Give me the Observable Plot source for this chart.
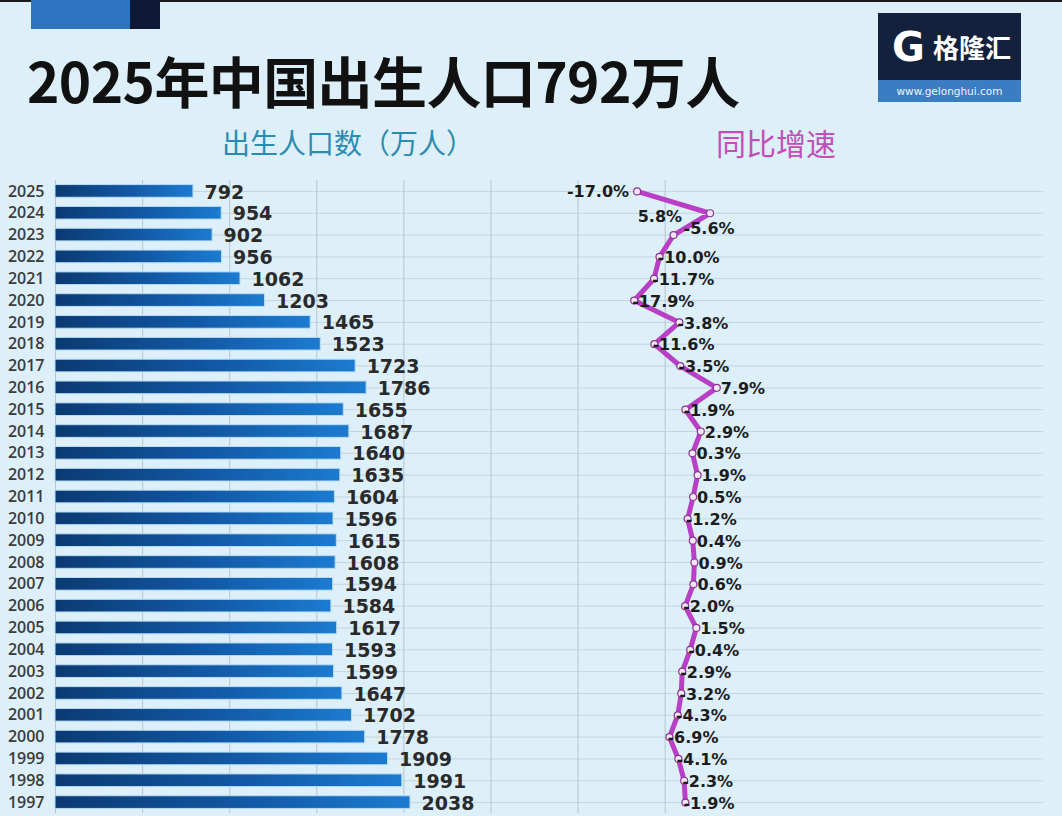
<!DOCTYPE html>
<html>
<head>
<meta charset="utf-8">
<script src="https://cdn.jsdelivr.net/npm/d3@7"></script>
<script src="https://cdn.jsdelivr.net/npm/@observablehq/plot@0.6"></script>
<style>
  html, body { margin: 0; padding: 0; }
  body { width: 1062px; height: 816px; overflow: hidden; background: #ddf0fa; font-family: "Noto Sans CJK SC", sans-serif; }
  #header { position: relative; height: 176px; }
  #header div { position: absolute; white-space: nowrap; line-height: 1; }
  #topline { left: 0; top: 0; width: 1062px; height: 2px; background: #1b1b1b; }
  #deco1 { left: 31px; top: 0; width: 99px; height: 29px; background: #2f74c0; }
  #deco2 { left: 130px; top: 0; width: 30px; height: 29px; background: #0e1a35; }
  #title { left: 27px; top: 52px; font-size: 55px; font-weight: 700; color: #111; letter-spacing: -0.6px; }
  #sub1 { left: 222px; top: 128px; font-size: 28px; color: #2c8bb0; }
  #sub2 { left: 716px; top: 127px; font-size: 30px; color: #c14fb8; }
  #logo { left: 878px; top: 13px; width: 143px; height: 67px; background: #14213d; }
  #logo2 { left: 878px; top: 80px; width: 143px; height: 22px; background: #3b7dc2; color: #eef4fb; font: 10.5px "DejaVu Sans", sans-serif; text-align: center; line-height: 22px !important; }
  #logoG { left: 892px; top: 27px; font: 900 40px "DejaVu Sans", sans-serif; color: #fff; }
  #logoT { left: 933px; top: 34px; font-size: 26px; color: #fff; font-weight: 700; }
  #chart { position: relative; width: 1062px; height: 640px; }
  #chart svg { position: absolute; left: 0; top: 0; }
</style>
</head>
<body>
<div id="header">
  <div id="topline"></div>
  <div id="deco1"></div>
  <div id="deco2"></div>
  <div id="title">2025年中国出生人口792万人</div>
  <div id="sub1">出生人口数（万人）</div>
  <div id="sub2">同比增速</div>
  <div id="logo"></div>
  <div id="logo2">www.gelonghui.com</div>
  <div id="logoG">G</div>
  <div id="logoT">格隆汇</div>
</div>
<div id="chart"></div>
<script>
const years = [2025, 2024, 2023, 2022, 2021, 2020, 2019, 2018, 2017, 2016, 2015, 2014, 2013, 2012, 2011, 2010, 2009, 2008, 2007, 2006, 2005, 2004, 2003, 2002, 2001, 2000, 1999, 1998, 1997];
const births = [792, 954, 902, 956, 1062, 1203, 1465, 1523, 1723, 1786, 1655, 1687, 1640, 1635, 1604, 1596, 1615, 1608, 1594, 1584, 1617, 1593, 1599, 1647, 1702, 1778, 1909, 1991, 2038];
const growth = [-17.0, 5.8, -5.6, -10.0, -11.7, -17.9, -3.8, -11.6, -3.5, 7.9, -1.9, 2.9, 0.3, 1.9, 0.5, -1.2, 0.4, 0.9, 0.6, -2.0, 1.5, -0.4, -2.9, -3.2, -4.3, -6.9, -4.1, -2.3, -1.9];
const gridTicks = [0, 500, 1000, 1500, 2000, 2500, 3000, 3500];

const rows = years.map((y, i) => ({year: String(y), births: births[i], growth: growth[i], label: growth[i].toFixed(1) + "%"}));
const yDomain = rows.map(d => d.year);

const common = {
  width: 1062, height: 640,
  marginTop: 4, marginBottom: 3, marginLeft: 55, marginRight: 19,
  style: {background: "transparent", overflow: "visible"}
};
const yScale = {domain: yDomain, paddingInner: 0.42, paddingOuter: 0.21, round: false};

const barPlot = Plot.plot({
  ...common,
  x: {domain: [0, 5672], axis: null},
  y: {...yScale, axis: null},
  marks: [
    Plot.ruleY(rows, {y: "year", stroke: "#c2d5e1", strokeWidth: 1}),
    Plot.ruleX(gridTicks, {stroke: "#b6c4ce", strokeWidth: 1}),
    Plot.barX(rows, {x: "births", y: "year", fill: "url(#barGrad)", stroke: "#b8ddf4", strokeWidth: 1}),
    Plot.text(rows, {x: "births", y: "year", text: d => String(d.births), dx: 11, dy: 1, textAnchor: "start",
      fontSize: 19, fontWeight: "bold", fontFamily: "DejaVu Sans", fill: "#2a2a2a"}),
    Plot.axisY({tickSize: 0, tickPadding: 11, fontSize: 16, fontWeight: 600, fontFamily: "Open Sans", color: "#3b3b3b", label: null})
  ]
});

const defs = d3.select(barPlot).insert("defs", ":first-child");
const grad = defs.append("linearGradient").attr("id", "barGrad").attr("x1", "0").attr("x2", "1").attr("y1", "0").attr("y2", "0");
grad.append("stop").attr("offset", "0").attr("stop-color", "#0b3a72");
grad.append("stop").attr("offset", "0.55").attr("stop-color", "#1259a6");
grad.append("stop").attr("offset", "1").attr("stop-color", "#1c7bd0");

const leftLabel = new Set(["2025", "2024"]);
const shifted = new Set(["2023"]);
const normal = rows.filter(d => !leftLabel.has(d.year) && !shifted.has(d.year));

const linePlot = Plot.plot({
  ...common,
  x: {domain: [-20, 10], range: [627, 723], axis: null},
  y: {...yScale, axis: null},
  marks: [
    Plot.line(rows, {x: "growth", y: "year", stroke: "#b93fc6", strokeWidth: 5, strokeLinejoin: "miter"}),
    Plot.dot(rows, {x: "growth", y: "year", r: 3.5, fill: "#f6e9f7", stroke: "#8e3598", strokeWidth: 1.2}),
    Plot.text(normal.filter(d => d.growth < 0), {x: "growth", y: "year", text: "label", dx: -2, dy: 1, textAnchor: "start",
      fontSize: 16, fontWeight: "bold", fontFamily: "DejaVu Sans", fill: "#1c1c1c"}),
    Plot.text(normal.filter(d => d.growth >= 0), {x: "growth", y: "year", text: "label", dx: 4, dy: 1, textAnchor: "start",
      fontSize: 16, fontWeight: "bold", fontFamily: "DejaVu Sans", fill: "#1c1c1c"}),
    Plot.text(rows.filter(d => d.year === "2025"), {x: "growth", y: "year", text: "label", dx: -8, dy: 0, textAnchor: "end",
      fontSize: 16, fontWeight: "bold", fontFamily: "DejaVu Sans", fill: "#1c1c1c"}),
    Plot.text(rows.filter(d => d.year === "2024"), {x: "growth", y: "year", text: "label", dx: -28, dy: 4, textAnchor: "end",
      fontSize: 16, fontWeight: "bold", fontFamily: "DejaVu Sans", fill: "#1c1c1c"}),
    Plot.text(rows.filter(d => shifted.has(d.year)), {x: "growth", y: "year", text: "label", dx: 10, dy: -6, textAnchor: "start",
      fontSize: 16, fontWeight: "bold", fontFamily: "DejaVu Sans", fill: "#1c1c1c"})
  ]
});

const chart = document.getElementById("chart");
chart.appendChild(barPlot);
chart.appendChild(linePlot);
</script>
</body>
</html>
